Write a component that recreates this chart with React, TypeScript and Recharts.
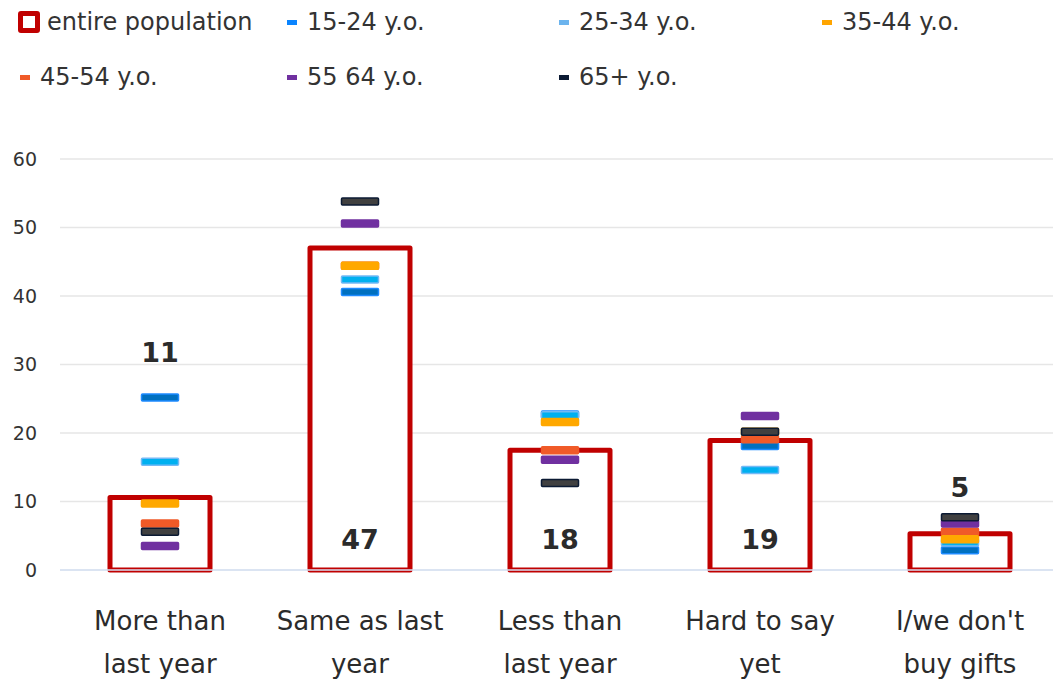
import React from "react";
import {
  ComposedChart,
  Bar,
  Scatter,
  XAxis,
  YAxis,
  CartesianGrid,
  Legend,
} from "recharts";

const categories = [
  "More than last year",
  "Same as last year",
  "Less than last year",
  "Hard to say yet",
  "I/we don't buy gifts",
];
const categoryLines = [
  ["More than", "last year"],
  ["Same as last", "year"],
  ["Less than", "last year"],
  ["Hard to say", "yet"],
  ["I/we don't", "buy gifts"],
];
const entirePopulation = [10.6, 47, 17.5, 18.9, 5.3];
const entireLabels = [11, 47, 18, 19, 5];
const labelAnchor = [31.8, 4.4, 4.4, 4.4, 12.0];
const age1524 = [25.2, 40.6, 22.7, 18.1, 2.9];
const age2534 = [15.8, 42.4, 22.6, 14.6, 4.0];
const age3544 = [9.7, 44.4, 21.6, 20.2, 4.5];
const age4554 = [6.8, 44.4, 17.5, 19.1, 5.6];
const age5564 = [3.5, 50.6, 16.1, 22.5, 6.8];
const age65 = [5.6, 53.8, 12.7, 20.2, 7.7];
const yTicks = [0, 10, 20, 30, 40, 50, 60];

const data = categories.map((c, i) => ({
  name: c,
  entire: entirePopulation[i],
  label: entireLabels[i],
  labelAnchor: labelAnchor[i],
  a1524: age1524[i],
  a2534: age2534[i],
  a3544: age3544[i],
  a4554: age4554[i],
  a5564: age5564[i],
  a65: age65[i],
}));

const FONT = "'DejaVu Sans', sans-serif";

const series = [
  { key: "a1524", name: "15-24 y.o.", fill: "#0070C0", stroke: "#1E8BFF" },
  { key: "a2534", name: "25-34 y.o.", fill: "#00B0F0", stroke: "#74B9F5" },
  { key: "a4554", name: "45-54 y.o.", fill: "#F05A28", stroke: "#F05A28" },
  { key: "a3544", name: "35-44 y.o.", fill: "#FFA800", stroke: "#FFA800" },
  { key: "a5564", name: "55 64 y.o.", fill: "#7030A0", stroke: "#7030A0" },
  { key: "a65", name: "65+ y.o.", fill: "#404040", stroke: "#0B1A33" },
];

const legendItems = [
  { name: "entire population", color: "#C00000", box: true },
  { name: "15-24 y.o.", color: "#0A84FF" },
  { name: "25-34 y.o.", color: "#6CB4EE" },
  { name: "35-44 y.o.", color: "#FFA500" },
  { name: "45-54 y.o.", color: "#F05A28" },
  { name: "55 64 y.o.", color: "#7030A0" },
  { name: "65+ y.o.", color: "#0B1A33" },
];

const colX = [18, 285, 557, 820];
const rowY = [22, 77];

const renderLegend = () => (
  <div style={{ position: "relative", width: 1053, height: 110 }}>
    {legendItems.map((it, i) => {
      const col = i % 4;
      const row = Math.floor(i / 4);
      return (
        <div
          key={it.name}
          style={{
            position: "absolute",
            left: colX[col],
            top: rowY[row] - 16,
            height: 32,
            display: "flex",
            alignItems: "center",
            fontFamily: FONT,
            fontSize: 24,
            color: "#333",
            whiteSpace: "nowrap",
          }}
        >
          {it.box ? (
            <span
              style={{
                display: "inline-block",
                width: 12,
                height: 12,
                border: "5px solid #C00000",
                borderRadius: 3,
                background: "#fff",
                marginRight: 7,
              }}
            />
          ) : (
            <span
              style={{
                display: "inline-block",
                width: 10,
                height: 5,
                background: it.color,
                marginLeft: 2,
                marginRight: 10,
              }}
            />
          )}
          {it.name}
        </div>
      );
    })}
  </div>
);

const makeMarker = (fill: string, stroke: string) => (props: any) => {
  const { cx, cy } = props;
  if (cx == null || cy == null) return <g />;
  return (
    <rect
      x={cx - 18.5}
      y={cy - 3.5}
      width={37}
      height={7}
      fill={fill}
      stroke={stroke}
      strokeWidth={1.5}
      rx={1}
    />
  );
};

const LabelShape = (props: any) => {
  const { cx, cy, payload } = props;
  return (
    <text
      x={cx}
      y={cy}
      textAnchor="middle"
      dominantBaseline="central"
      fontFamily={FONT}
      fontWeight="bold"
      fontSize={27}
      fill="#2b2b2b"
    >
      {payload.label}
    </text>
  );
};

const XTick = (props: any) => {
  const { x, y, index } = props;
  const lines = categoryLines[index] || [];
  return (
    <g>
      {lines.map((l: string, k: number) => (
        <text
          key={k}
          x={x}
          y={y + 52 + k * 43}
          textAnchor="middle"
          fontFamily={FONT}
          fontSize={26}
          fill="#2b2b2b"
        >
          {l}
        </text>
      ))}
    </g>
  );
};

export default function App() {
  return (
    <div
      style={{
        position: "absolute",
        left: 0,
        top: 0,
        width: 1053,
        height: 685,
        overflow: "hidden",
        background: "#fff",
      }}
    >
      <ComposedChart
        width={1070}
        height={685}
        data={data}
        margin={{ top: 49, right: 10, left: 0, bottom: 0 }}
      >
        <CartesianGrid vertical={false} stroke="#E6E6E6" strokeWidth={1.5} />
        <XAxis
          dataKey="name"
          height={115}
          tickLine={false}
          axisLine={{ stroke: "#D6E2F5", strokeWidth: 1.5 }}
          tick={<XTick />}
          interval={0}
        />
        <YAxis
          width={60}
          domain={[0, 60]}
          ticks={yTicks}
          axisLine={false}
          tickLine={false}
          tickSize={0}
          tickMargin={23}
          tick={{ fontFamily: FONT, fontSize: 19, fill: "#333" }}
        />
        <Legend
          verticalAlign="top"
          height={110}
          content={renderLegend}
          wrapperStyle={{ position: "absolute", top: 0, left: 0, width: 1053, height: 110 }}
        />
        <Bar
          dataKey="entire"
          name="entire population"
          barSize={100}
          fill="#fff"
          stroke="#C00000"
          strokeWidth={5}
          strokeLinejoin="round"
          isAnimationActive={false}
        />
        {series.map((s) => (
          <Scatter
            key={s.key}
            dataKey={s.key}
            name={s.name}
            fill={s.fill}
            shape={makeMarker(s.fill, s.stroke)}
            isAnimationActive={false}
          />
        ))}
        <Scatter
          dataKey="labelAnchor"
          name="labels"
          legendType="none"
          shape={LabelShape}
          isAnimationActive={false}
        />
      </ComposedChart>
    </div>
  );
}
